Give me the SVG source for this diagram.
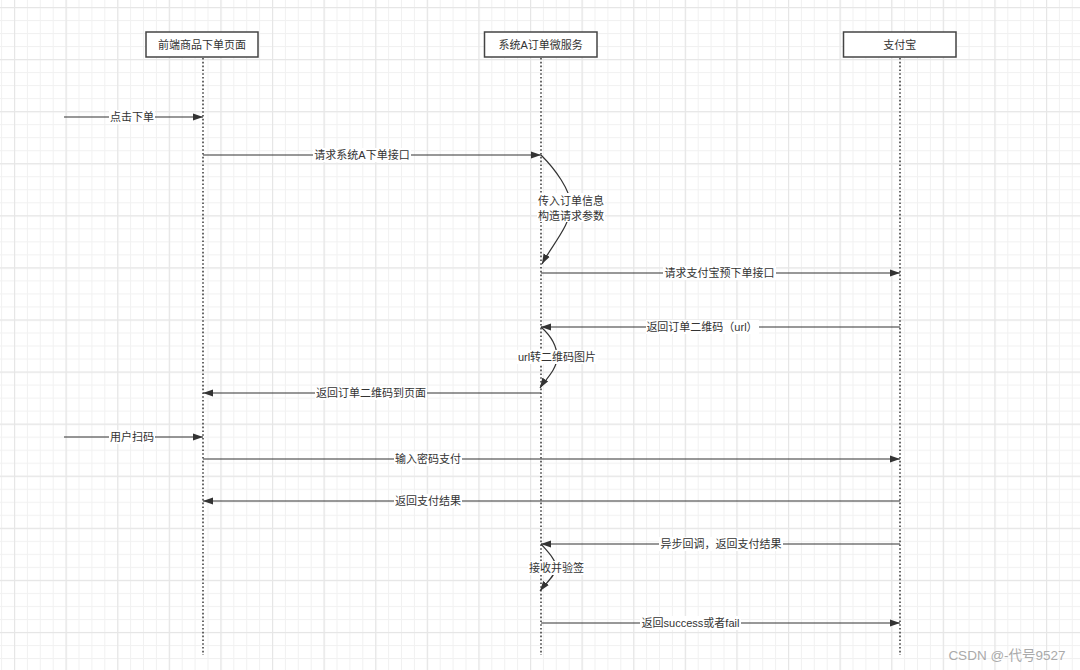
<svg xmlns="http://www.w3.org/2000/svg" width="1080" height="670" viewBox="0 0 1080 670">
<style>
.t{font-family:"Liberation Sans","Noto Sans CJK SC",sans-serif;font-size:11px;fill:#333;text-anchor:middle}
.box{fill:#fff;stroke:#444;stroke-width:1.5}
.life{stroke:#444;stroke-width:1.6;stroke-dasharray:1.6 2.2;fill:none}
.msg{stroke:#333;stroke-width:1.2;fill:none;marker-end:url(#ah)}
.bg{fill:#fff}
</style>
<defs>
<pattern id="gmin" x="1.1" y="7" width="12.9" height="13.02" patternUnits="userSpaceOnUse">
<rect x="0" y="0" width="1" height="13.02" fill="#f1f1f1"/>
<rect x="0" y="0" width="12.9" height="1" fill="#f1f1f1"/>
</pattern>
<pattern id="gmaj" x="14" y="7" width="51.6" height="52.08" patternUnits="userSpaceOnUse">
<rect x="0" y="0" width="1.2" height="52.08" fill="#e6e6e6"/>
<rect x="0" y="0" width="51.6" height="1.2" fill="#e6e6e6"/>
</pattern>
<marker id="ah" markerWidth="10" markerHeight="8" refX="10" refY="4" orient="auto" markerUnits="userSpaceOnUse">
<path d="M0,0.5 L10,4 L0,7.5 Z" fill="#333"/>
</marker>
</defs>
<rect width="1080" height="670" fill="#fff"/>
<rect width="1080" height="670" fill="url(#gmin)"/>
<rect width="1080" height="670" fill="url(#gmaj)"/>

<g id="frontend">
<line class="life" x1="203" y1="58" x2="203" y2="655"/>
<rect class="box" x="146" y="32" width="112" height="25"/>
<text class="t" x="202" y="48.5">前端商品下单页面</text>
</g>
<g id="order-service">
<line class="life" x1="541" y1="58" x2="541" y2="655"/>
<rect class="box" x="484.5" y="32" width="112.5" height="25"/>
<text class="t" x="540.7" y="48.5">系统A订单微服务</text>
</g>
<g id="alipay">
<line class="life" x1="900" y1="58" x2="900" y2="655"/>
<rect class="box" x="843.5" y="32" width="112.5" height="25"/>
<text class="t" x="899.7" y="48.5">支付宝</text>
</g>

<g id="connectors">
<path class="msg" d="M64,117 H203"/>
<path class="msg" d="M203,155 H541"/>
<path class="msg" d="M541,155 C556,170 570,190 571,205 C571,225 552,245 542,264"/>
<path class="msg" d="M541,273 H900"/>
<path class="msg" d="M900,327 H541"/>
<path class="msg" d="M541,327 C550,335 557,345 557,357 C557,370 545,380 540,388"/>
<path class="msg" d="M541,393 H203"/>
<path class="msg" d="M64,437 H203"/>
<path class="msg" d="M203,459 H900"/>
<path class="msg" d="M900,501 H203"/>
<path class="msg" d="M900,544 H541"/>
<path class="msg" d="M541,544 C548,552 556,560 556,567 C556,575 546,583 540,591"/>
<path class="msg" d="M541,623 H900"/>
</g>

<g id="labels">
<rect class="bg" x="109" y="110" width="46" height="14"/>
<text class="t" x="132" y="121">点击下单</text>
<rect class="bg" x="313" y="148" width="98" height="14"/>
<text class="t" x="362" y="159">请求系统A下单接口</text>
<rect class="bg" x="537" y="193" width="68" height="29"/>
<text class="t" x="571" y="205">传入订单信息</text>
<text class="t" x="571" y="220">构造请求参数</text>
<rect class="bg" x="663" y="266" width="113" height="14"/>
<text class="t" x="719.5" y="277">请求支付宝预下单接口</text>
<rect class="bg" x="646" y="320" width="113" height="14"/>
<text class="t" x="702" y="331">返回订单二维码（url）</text>
<rect class="bg" x="517" y="350" width="81" height="14"/>
<text class="t" x="557" y="361">url转二维码图片</text>
<rect class="bg" x="315" y="386" width="112" height="14"/>
<text class="t" x="371" y="397">返回订单二维码到页面</text>
<rect class="bg" x="109" y="430" width="46" height="14"/>
<text class="t" x="132" y="441">用户扫码</text>
<rect class="bg" x="394" y="452" width="68" height="14"/>
<text class="t" x="428" y="463">输入密码支付</text>
<rect class="bg" x="394" y="494" width="68" height="14"/>
<text class="t" x="428" y="505">返回支付结果</text>
<rect class="bg" x="659" y="537" width="124" height="14"/>
<text class="t" x="721" y="548">异步回调，返回支付结果</text>
<rect class="bg" x="528" y="561" width="57" height="14"/>
<text class="t" x="556.5" y="572">接收并验签</text>
<rect class="bg" x="640" y="616" width="101" height="14"/>
<text class="t" x="690.5" y="627">返回success或者fail</text>
</g>

<text x="1007" y="660" style="font-family:'Liberation Sans','Noto Sans CJK SC',sans-serif;font-size:13.5px;fill:#aaa;text-anchor:middle">CSDN @-代号9527</text>
</svg>
